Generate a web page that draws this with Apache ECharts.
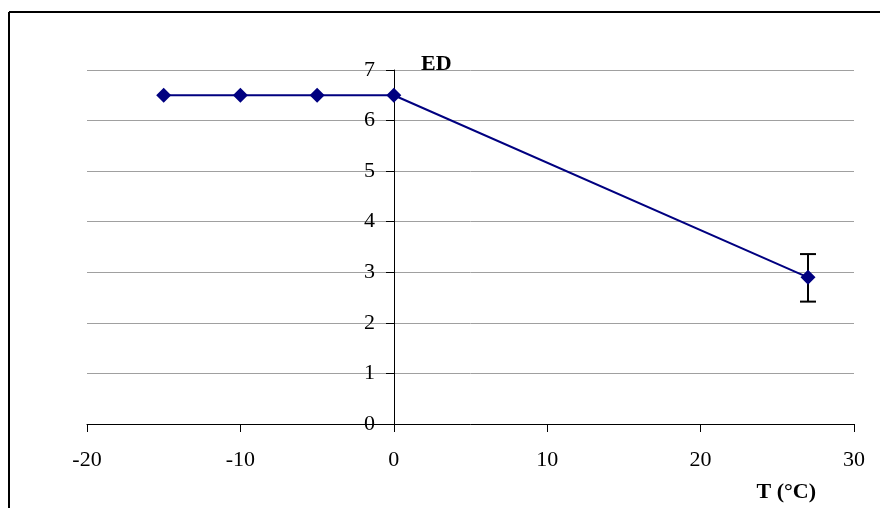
<!DOCTYPE html>
<html>
<head>
<meta charset="utf-8">
<script src="https://cdn.jsdelivr.net/npm/echarts@6/dist/echarts.min.js"></script>
<style>
html,body{margin:0;padding:0;background:#fff;}
#chart{width:880px;height:508px;}
</style>
</head>
<body>
<div id="chart"></div>
<script>
const temps = [-15, -10, -5, 0, 27];
const edValues = [6.5, 6.5, 6.5, 6.5, 2.9];
const errTemps = [27];
const errLow = [2.42];
const errHigh = [3.36];
const xTicks = [-20, -10, 0, 10, 20, 30];
const yTicks = [0, 1, 2, 3, 4, 5, 6, 7];
const xTitle = 'T (°C)';
const yTitle = 'ED';

const FONT = '"Liberation Serif", "Times New Roman", serif';

const GRID_LEFT = 87, GRID_RIGHT = 26;
const plotW = 880 - GRID_LEFT - GRID_RIGHT;
const xMin = xTicks[0], xMax = xTicks[xTicks.length - 1];
// place the y axis where x = 0 lies
const yAxisOffset = -Math.round((0 - xMin) / (xMax - xMin) * plotW);

const chart = echarts.init(document.getElementById('chart'), null, {renderer: 'canvas'});

const lineData = temps.map((t, i) => [t, edValues[i]]);
const errData = errTemps.map((t, i) => [t, errLow[i], errHigh[i]]);

const option = {
  backgroundColor: '#ffffff',
  animation: false,
  grid: {left: GRID_LEFT, right: GRID_RIGHT, top: 70, bottom: 84, containLabel: false},
  xAxis: {
    type: 'value',
    min: xMin, max: xMax, interval: 10,
    name: xTitle,
    nameLocation: 'end',
    nameGap: 0,
    nameTextStyle: {
      fontFamily: FONT, fontSize: 22, fontWeight: 'bold', color: '#000',
      align: 'right', verticalAlign: 'top', padding: [57, 38, 0, 0]
    },
    axisLine: {show: true, onZero: false, lineStyle: {color: '#000', width: 1}},
    axisTick: {show: true, length: 8, inside: false, lineStyle: {color: '#000', width: 1}},
    axisLabel: {fontFamily: FONT, fontSize: 22, color: '#000', margin: 25},
    splitLine: {show: false}
  },
  yAxis: {
    type: 'value',
    position: 'left',
    offset: yAxisOffset,
    min: yTicks[0], max: yTicks[yTicks.length - 1], interval: 1,
    name: yTitle,
    nameLocation: 'end',
    nameGap: 6,
    nameTextStyle: {
      fontFamily: FONT, fontSize: 22, fontWeight: 'bold', color: '#000',
      align: 'left', verticalAlign: 'middle', padding: [0, 0, 0, 27]
    },
    axisLine: {show: true, onZero: false, lineStyle: {color: '#000', width: 1}},
    axisTick: {show: true, length: 8, inside: false, lineStyle: {color: '#000', width: 1}},
    axisLabel: {fontFamily: FONT, fontSize: 22, color: '#000', margin: 19},
    splitLine: {show: true, lineStyle: {color: '#a0a0a0', width: 1}}
  },
  graphic: [
    {type: 'line', shape: {x1: 9, y1: 12, x2: 880, y2: 12}, style: {stroke: '#000', lineWidth: 2}, z: 100},
    {type: 'line', shape: {x1: 9, y1: 12, x2: 9, y2: 508}, style: {stroke: '#000', lineWidth: 2}, z: 100}
  ],
  series: [
    {
      type: 'custom',
      data: errData,
      z: 3,
      renderItem: function (params, api) {
        const x = api.value(0);
        const lo = api.coord([x, api.value(1)]);
        const hi = api.coord([x, api.value(2)]);
        const hw = 8;
        const st = {stroke: '#000', lineWidth: 2};
        return {
          type: 'group',
          children: [
            {type: 'line', shape: {x1: lo[0], y1: lo[1], x2: hi[0], y2: hi[1]}, style: st},
            {type: 'line', shape: {x1: hi[0] - hw, y1: hi[1], x2: hi[0] + hw, y2: hi[1]}, style: st},
            {type: 'line', shape: {x1: lo[0] - hw, y1: lo[1], x2: lo[0] + hw, y2: lo[1]}, style: st}
          ]
        };
      }
    },
    {
      type: 'line',
      data: lineData,
      z: 5,
      symbol: 'diamond',
      symbolSize: 15,
      lineStyle: {color: '#000080', width: 2},
      itemStyle: {color: '#000080', borderWidth: 0},
      emphasis: {disabled: true}
    }
  ]
};
chart.setOption(option);
</script>
</body>
</html>
